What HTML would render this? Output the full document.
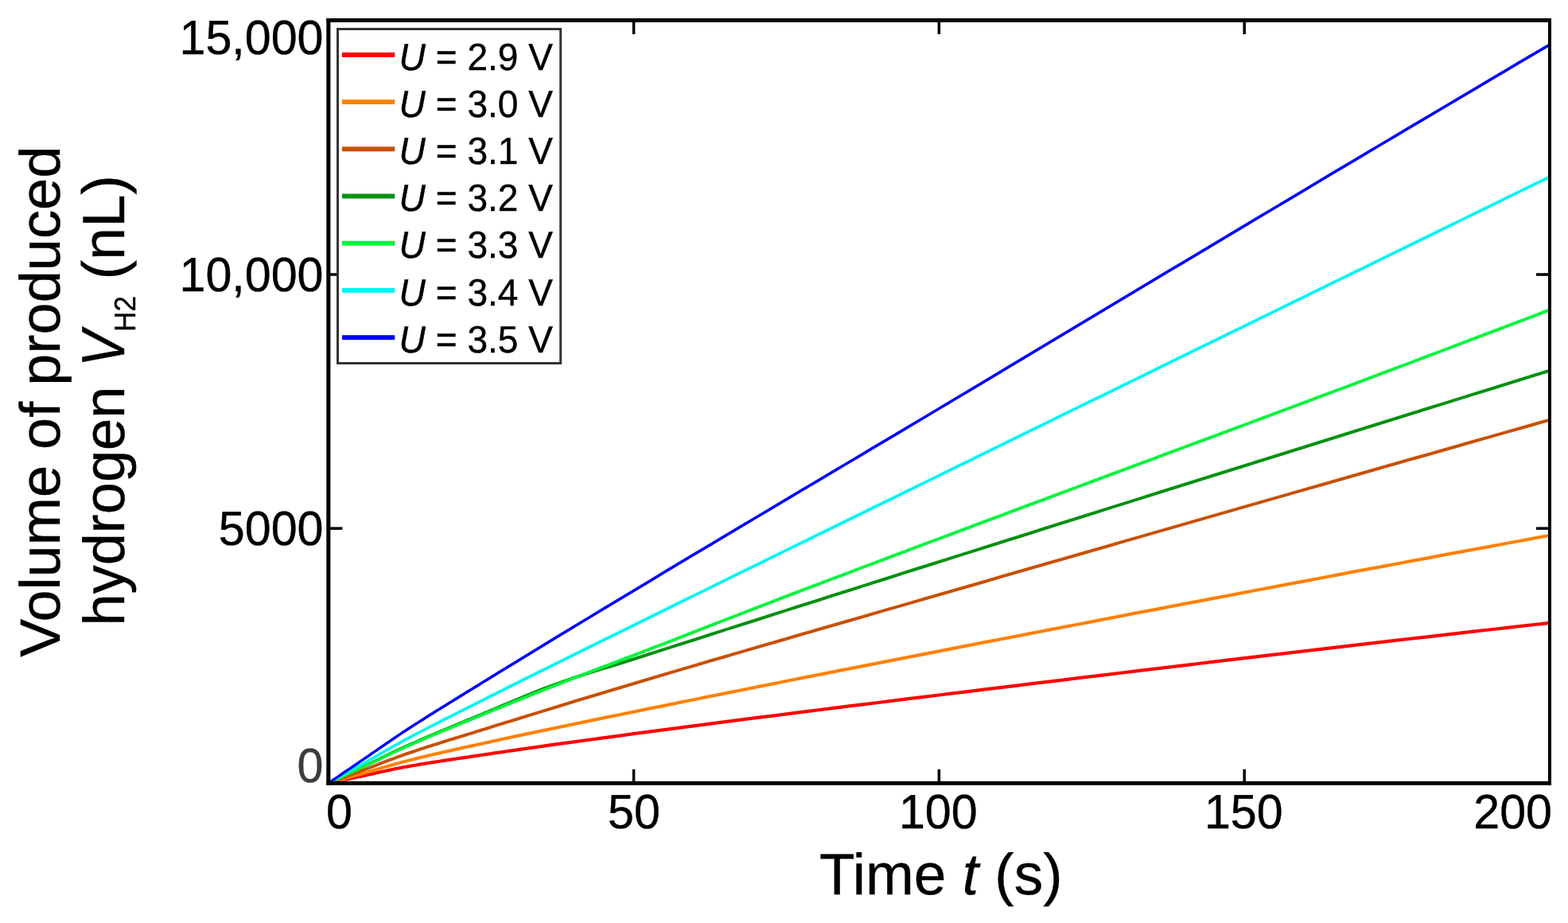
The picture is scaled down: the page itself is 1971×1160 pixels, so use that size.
<!DOCTYPE html>
<html lang="en"><head><meta charset="utf-8"><title>Volume of produced hydrogen</title>
<style>html,body{margin:0;padding:0;background:#fff;}body{width:1971px;height:1160px;overflow:hidden;}svg{display:block;}text{font-family:"Liberation Sans",sans-serif;fill:#000;text-rendering:geometricPrecision;}</style>
</head><body>
<svg width="1971" height="1160" viewBox="0 0 1971 1160" role="img" aria-label="Volume of produced hydrogen versus time for seven voltages">
<rect x="0" y="0" width="1971" height="1160" fill="#fff"/>
<defs><clipPath id="plot"><rect x="415.4" y="28.0" width="1530.6" height="953.8"/></clipPath></defs>
<g fill="#000"><rect x="794.85" y="966.80" width="3.5" height="16.0"/><rect x="794.85" y="27.00" width="3.5" height="16.0"/><rect x="1178.65" y="966.80" width="3.5" height="16.0"/><rect x="1178.65" y="27.00" width="3.5" height="16.0"/><rect x="1562.45" y="966.80" width="3.5" height="16.0"/><rect x="1562.45" y="27.00" width="3.5" height="16.0"/><rect x="414.40" y="662.35" width="16.0" height="3.5"/><rect x="1931.00" y="662.35" width="16.0" height="3.5"/><rect x="414.40" y="343.25" width="16.0" height="3.5"/><rect x="1931.00" y="343.25" width="16.0" height="3.5"/></g>
<g clip-path="url(#plot)" stroke="none">
<path d="M412.8,982.2 L416.6,981.4 L420.5,980.6 L424.3,979.8 L428.2,979.0 L432.0,978.1 L435.8,977.3 L439.7,976.5 L443.5,975.7 L447.3,974.9 L451.2,974.1 L455.0,973.3 L458.9,972.5 L462.7,971.6 L466.5,970.8 L470.4,970.0 L474.2,969.1 L478.0,968.3 L481.9,967.4 L485.7,966.6 L489.6,965.8 L493.4,964.9 L497.2,964.1 L501.1,963.4 L504.9,962.6 L508.8,961.9 L512.6,961.2 L516.4,960.5 L520.3,959.9 L524.1,959.2 L527.9,958.6 L531.8,957.9 L535.6,957.3 L539.5,956.7 L543.3,956.1 L547.1,955.5 L551.0,954.9 L554.8,954.3 L558.6,953.7 L562.5,953.1 L566.3,952.5 L570.2,952.0 L574.0,951.4 L577.8,950.8 L581.7,950.3 L585.5,949.7 L589.3,949.2 L593.2,948.6 L597.0,948.0 L600.9,947.5 L604.7,946.9 L608.5,946.3 L612.4,945.8 L616.2,945.2 L620.1,944.6 L623.9,944.1 L627.7,943.5 L631.6,943.0 L635.4,942.4 L639.2,941.8 L643.1,941.3 L662.3,938.5 L681.5,935.8 L700.7,933.1 L719.8,930.5 L739.0,927.9 L758.2,925.3 L777.4,922.7 L796.6,920.1 L815.8,917.5 L835.0,915.0 L854.2,912.5 L873.4,910.0 L892.5,907.5 L911.7,905.0 L930.9,902.5 L950.1,900.1 L969.3,897.7 L988.5,895.2 L1007.7,892.8 L1026.9,890.4 L1046.1,888.0 L1065.3,885.6 L1084.5,883.2 L1103.6,880.9 L1122.8,878.5 L1142.0,876.1 L1161.2,873.8 L1180.4,871.4 L1199.6,869.0 L1218.8,866.7 L1238.0,864.3 L1257.2,862.0 L1276.3,859.7 L1295.5,857.3 L1314.7,855.0 L1333.9,852.7 L1353.1,850.3 L1372.3,848.0 L1391.5,845.7 L1410.7,843.4 L1429.9,841.1 L1449.1,838.8 L1468.2,836.5 L1487.4,834.2 L1506.6,831.9 L1525.8,829.6 L1545.0,827.3 L1564.2,825.1 L1583.4,822.8 L1602.6,820.5 L1621.8,818.3 L1641.0,816.0 L1660.1,813.8 L1679.3,811.5 L1698.5,809.3 L1717.7,807.1 L1736.9,804.8 L1756.1,802.6 L1775.3,800.4 L1794.5,798.2 L1813.7,796.0 L1832.9,793.8 L1852.0,791.6 L1871.2,789.4 L1890.4,787.2 L1909.6,785.1 L1928.8,782.9 L1948.0,780.8 L1948.0,785.0 L1928.8,787.1 L1909.6,789.3 L1890.4,791.4 L1871.2,793.6 L1852.0,795.8 L1832.9,798.0 L1813.7,800.2 L1794.5,802.4 L1775.3,804.6 L1756.1,806.8 L1736.9,809.0 L1717.7,811.3 L1698.5,813.5 L1679.3,815.7 L1660.1,818.0 L1641.0,820.2 L1621.8,822.5 L1602.6,824.7 L1583.4,827.0 L1564.2,829.3 L1545.0,831.5 L1525.8,833.8 L1506.6,836.1 L1487.4,838.4 L1468.2,840.7 L1449.1,843.0 L1429.9,845.3 L1410.7,847.6 L1391.5,849.9 L1372.3,852.2 L1353.1,854.5 L1333.9,856.9 L1314.7,859.2 L1295.5,861.5 L1276.3,863.9 L1257.2,866.2 L1238.0,868.5 L1218.8,870.9 L1199.6,873.2 L1180.4,875.6 L1161.2,878.0 L1142.0,880.3 L1122.8,882.7 L1103.6,885.1 L1084.5,887.4 L1065.3,889.8 L1046.1,892.2 L1026.9,894.6 L1007.7,897.0 L988.5,899.4 L969.3,901.9 L950.1,904.3 L930.9,906.7 L911.7,909.2 L892.5,911.7 L873.4,914.2 L854.2,916.7 L835.0,919.2 L815.8,921.7 L796.6,924.3 L777.4,926.9 L758.2,929.5 L739.0,932.1 L719.8,934.7 L700.7,937.3 L681.5,940.0 L662.3,942.7 L643.1,945.5 L639.2,946.0 L635.4,946.6 L631.6,947.2 L627.7,947.7 L623.9,948.3 L620.1,948.8 L616.2,949.4 L612.4,950.0 L608.5,950.5 L604.7,951.1 L600.9,951.7 L597.0,952.2 L593.2,952.8 L589.3,953.4 L585.5,953.9 L581.7,954.5 L577.8,955.0 L574.0,955.6 L570.2,956.2 L566.3,956.7 L562.5,957.3 L558.6,957.9 L554.8,958.5 L551.0,959.1 L547.1,959.7 L543.3,960.3 L539.5,960.9 L535.6,961.5 L531.8,962.1 L527.9,962.8 L524.1,963.4 L520.3,964.1 L516.4,964.7 L512.6,965.4 L508.8,966.1 L504.9,966.8 L501.1,967.6 L497.2,968.3 L493.4,969.1 L489.6,970.0 L485.7,970.8 L481.9,971.6 L478.0,972.5 L474.2,973.3 L470.4,974.2 L466.5,975.0 L462.7,975.8 L458.9,976.7 L455.0,977.5 L451.2,978.3 L447.3,979.1 L443.5,979.9 L439.7,980.7 L435.8,981.5 L432.0,982.3 L428.2,983.2 L424.3,984.0 L420.5,984.8 L416.6,985.6 L412.8,986.4Z" fill="#ff0000"/>
<path d="M412.8,982.2 L416.6,981.1 L420.5,980.0 L424.3,978.9 L428.2,977.8 L432.0,976.7 L435.8,975.6 L439.7,974.6 L443.5,973.5 L447.3,972.4 L451.2,971.3 L455.0,970.2 L458.9,969.1 L462.7,968.0 L466.5,966.9 L470.4,965.8 L474.2,964.7 L478.0,963.5 L481.9,962.4 L485.7,961.3 L489.6,960.2 L493.4,959.1 L497.2,958.0 L501.1,956.9 L504.9,955.9 L508.8,954.9 L512.6,953.9 L516.4,952.9 L520.3,952.0 L524.1,951.0 L527.9,950.1 L531.8,949.2 L535.6,948.3 L539.5,947.3 L543.3,946.4 L547.1,945.6 L551.0,944.7 L554.8,943.8 L558.6,942.9 L562.5,942.1 L566.3,941.2 L570.2,940.3 L574.0,939.5 L577.8,938.6 L581.7,937.8 L585.5,936.9 L589.3,936.1 L593.2,935.2 L597.0,934.4 L600.9,933.5 L604.7,932.7 L608.5,931.9 L612.4,931.0 L616.2,930.2 L620.1,929.3 L623.9,928.5 L627.7,927.7 L631.6,926.8 L635.4,926.0 L639.2,925.2 L643.1,924.3 L662.3,920.3 L681.5,916.2 L700.7,912.2 L719.8,908.2 L739.0,904.3 L758.2,900.3 L777.4,896.4 L796.6,892.5 L815.8,888.6 L835.0,884.7 L854.2,880.8 L873.4,876.9 L892.5,873.1 L911.7,869.2 L930.9,865.4 L950.1,861.5 L969.3,857.7 L988.5,853.9 L1007.7,850.1 L1026.9,846.3 L1046.1,842.6 L1065.3,838.8 L1084.5,835.0 L1103.6,831.3 L1122.8,827.5 L1142.0,823.8 L1161.2,820.0 L1180.4,816.3 L1199.6,812.6 L1218.8,808.8 L1238.0,805.1 L1257.2,801.4 L1276.3,797.7 L1295.5,794.0 L1314.7,790.3 L1333.9,786.6 L1353.1,782.9 L1372.3,779.2 L1391.5,775.5 L1410.7,771.8 L1429.9,768.1 L1449.1,764.5 L1468.2,760.8 L1487.4,757.1 L1506.6,753.5 L1525.8,749.8 L1545.0,746.2 L1564.2,742.5 L1583.4,738.9 L1602.6,735.2 L1621.8,731.6 L1641.0,728.0 L1660.1,724.4 L1679.3,720.8 L1698.5,717.1 L1717.7,713.5 L1736.9,710.0 L1756.1,706.4 L1775.3,702.8 L1794.5,699.2 L1813.7,695.6 L1832.9,692.1 L1852.0,688.5 L1871.2,685.0 L1890.4,681.4 L1909.6,677.9 L1928.8,674.3 L1948.0,670.8 L1948.0,675.0 L1928.8,678.5 L1909.6,682.1 L1890.4,685.6 L1871.2,689.2 L1852.0,692.7 L1832.9,696.3 L1813.7,699.8 L1794.5,703.4 L1775.3,707.0 L1756.1,710.6 L1736.9,714.2 L1717.7,717.7 L1698.5,721.3 L1679.3,725.0 L1660.1,728.6 L1641.0,732.2 L1621.8,735.8 L1602.6,739.4 L1583.4,743.1 L1564.2,746.7 L1545.0,750.4 L1525.8,754.0 L1506.6,757.7 L1487.4,761.3 L1468.2,765.0 L1449.1,768.7 L1429.9,772.3 L1410.7,776.0 L1391.5,779.7 L1372.3,783.4 L1353.1,787.1 L1333.9,790.8 L1314.7,794.5 L1295.5,798.2 L1276.3,801.9 L1257.2,805.6 L1238.0,809.3 L1218.8,813.0 L1199.6,816.8 L1180.4,820.5 L1161.2,824.2 L1142.0,828.0 L1122.8,831.7 L1103.6,835.5 L1084.5,839.2 L1065.3,843.0 L1046.1,846.8 L1026.9,850.5 L1007.7,854.3 L988.5,858.1 L969.3,861.9 L950.1,865.7 L930.9,869.6 L911.7,873.4 L892.5,877.3 L873.4,881.1 L854.2,885.0 L835.0,888.9 L815.8,892.8 L796.6,896.7 L777.4,900.6 L758.2,904.5 L739.0,908.5 L719.8,912.4 L700.7,916.4 L681.5,920.4 L662.3,924.5 L643.1,928.5 L639.2,929.4 L635.4,930.2 L631.6,931.0 L627.7,931.9 L623.9,932.7 L620.1,933.5 L616.2,934.4 L612.4,935.2 L608.5,936.1 L604.7,936.9 L600.9,937.7 L597.0,938.6 L593.2,939.4 L589.3,940.3 L585.5,941.1 L581.7,942.0 L577.8,942.8 L574.0,943.7 L570.2,944.5 L566.3,945.4 L562.5,946.3 L558.6,947.1 L554.8,948.0 L551.0,948.9 L547.1,949.8 L543.3,950.6 L539.5,951.5 L535.6,952.5 L531.8,953.4 L527.9,954.3 L524.1,955.2 L520.3,956.2 L516.4,957.1 L512.6,958.1 L508.8,959.1 L504.9,960.1 L501.1,961.1 L497.2,962.2 L493.4,963.3 L489.6,964.4 L485.7,965.5 L481.9,966.6 L478.0,967.7 L474.2,968.9 L470.4,970.0 L466.5,971.1 L462.7,972.2 L458.9,973.3 L455.0,974.4 L451.2,975.5 L447.3,976.6 L443.5,977.7 L439.7,978.8 L435.8,979.8 L432.0,980.9 L428.2,982.0 L424.3,983.1 L420.5,984.2 L416.6,985.3 L412.8,986.4Z" fill="#ff8000"/>
<path d="M412.8,982.2 L416.6,980.8 L420.5,979.3 L424.3,977.9 L428.2,976.4 L432.0,975.0 L435.8,973.5 L439.7,972.1 L443.5,970.6 L447.3,969.2 L451.2,967.8 L455.0,966.3 L458.9,964.9 L462.7,963.4 L466.5,962.0 L470.4,960.5 L474.2,959.0 L478.0,957.5 L481.9,956.1 L485.7,954.6 L489.6,953.1 L493.4,951.7 L497.2,950.2 L501.1,948.8 L504.9,947.5 L508.8,946.1 L512.6,944.8 L516.4,943.5 L520.3,942.2 L524.1,940.9 L527.9,939.6 L531.8,938.4 L535.6,937.1 L539.5,935.9 L543.3,934.7 L547.1,933.4 L551.0,932.2 L554.8,931.0 L558.6,929.8 L562.5,928.6 L566.3,927.4 L570.2,926.3 L574.0,925.1 L577.8,923.9 L581.7,922.7 L585.5,921.5 L589.3,920.4 L593.2,919.2 L597.0,918.0 L600.9,916.8 L604.7,915.6 L608.5,914.4 L612.4,913.2 L616.2,912.0 L620.1,910.8 L623.9,909.6 L627.7,908.4 L631.6,907.2 L635.4,906.0 L639.2,904.9 L643.1,903.7 L662.3,897.7 L681.5,891.9 L700.7,886.0 L719.8,880.1 L739.0,874.3 L758.2,868.5 L777.4,862.7 L796.6,857.0 L815.8,851.3 L835.0,845.6 L854.2,839.9 L873.4,834.3 L892.5,828.6 L911.7,823.0 L930.9,817.4 L950.1,811.8 L969.3,806.2 L988.5,800.7 L1007.7,795.1 L1026.9,789.6 L1046.1,784.0 L1065.3,778.5 L1084.5,773.0 L1103.6,767.4 L1122.8,761.9 L1142.0,756.4 L1161.2,750.8 L1180.4,745.3 L1199.6,739.8 L1218.8,734.2 L1238.0,728.7 L1257.2,723.1 L1276.3,717.6 L1295.5,712.1 L1314.7,706.5 L1333.9,701.0 L1353.1,695.5 L1372.3,690.0 L1391.5,684.5 L1410.7,678.9 L1429.9,673.4 L1449.1,667.9 L1468.2,662.4 L1487.4,656.9 L1506.6,651.4 L1525.8,645.9 L1545.0,640.4 L1564.2,634.9 L1583.4,629.4 L1602.6,623.9 L1621.8,618.4 L1641.0,612.9 L1660.1,607.5 L1679.3,602.0 L1698.5,596.5 L1717.7,591.0 L1736.9,585.6 L1756.1,580.1 L1775.3,574.6 L1794.5,569.2 L1813.7,563.7 L1832.9,558.3 L1852.0,552.8 L1871.2,547.4 L1890.4,541.9 L1909.6,536.5 L1928.8,531.1 L1948.0,525.6 L1948.0,529.8 L1928.8,535.3 L1909.6,540.7 L1890.4,546.1 L1871.2,551.6 L1852.0,557.0 L1832.9,562.5 L1813.7,567.9 L1794.5,573.4 L1775.3,578.8 L1756.1,584.3 L1736.9,589.8 L1717.7,595.2 L1698.5,600.7 L1679.3,606.2 L1660.1,611.7 L1641.0,617.1 L1621.8,622.6 L1602.6,628.1 L1583.4,633.6 L1564.2,639.1 L1545.0,644.6 L1525.8,650.1 L1506.6,655.6 L1487.4,661.1 L1468.2,666.6 L1449.1,672.1 L1429.9,677.6 L1410.7,683.1 L1391.5,688.7 L1372.3,694.2 L1353.1,699.7 L1333.9,705.2 L1314.7,710.7 L1295.5,716.3 L1276.3,721.8 L1257.2,727.3 L1238.0,732.9 L1218.8,738.4 L1199.6,744.0 L1180.4,749.5 L1161.2,755.0 L1142.0,760.6 L1122.8,766.1 L1103.6,771.6 L1084.5,777.2 L1065.3,782.7 L1046.1,788.2 L1026.9,793.8 L1007.7,799.3 L988.5,804.9 L969.3,810.4 L950.1,816.0 L930.9,821.6 L911.7,827.2 L892.5,832.8 L873.4,838.5 L854.2,844.1 L835.0,849.8 L815.8,855.5 L796.6,861.2 L777.4,866.9 L758.2,872.7 L739.0,878.5 L719.8,884.3 L700.7,890.2 L681.5,896.1 L662.3,901.9 L643.1,907.9 L639.2,909.1 L635.4,910.2 L631.6,911.4 L627.7,912.6 L623.9,913.8 L620.1,915.0 L616.2,916.2 L612.4,917.4 L608.5,918.6 L604.7,919.8 L600.9,921.0 L597.0,922.2 L593.2,923.4 L589.3,924.6 L585.5,925.7 L581.7,926.9 L577.8,928.1 L574.0,929.3 L570.2,930.5 L566.3,931.6 L562.5,932.8 L558.6,934.0 L554.8,935.2 L551.0,936.4 L547.1,937.6 L543.3,938.9 L539.5,940.1 L535.6,941.3 L531.8,942.6 L527.9,943.8 L524.1,945.1 L520.3,946.4 L516.4,947.7 L512.6,949.0 L508.8,950.3 L504.9,951.7 L501.1,953.0 L497.2,954.4 L493.4,955.9 L489.6,957.3 L485.7,958.8 L481.9,960.3 L478.0,961.7 L474.2,963.2 L470.4,964.7 L466.5,966.2 L462.7,967.6 L458.9,969.1 L455.0,970.5 L451.2,972.0 L447.3,973.4 L443.5,974.8 L439.7,976.3 L435.8,977.7 L432.0,979.2 L428.2,980.6 L424.3,982.1 L420.5,983.5 L416.6,985.0 L412.8,986.4Z" fill="#c85000"/>
<path d="M412.8,982.2 L416.6,980.4 L420.5,978.5 L424.3,976.7 L428.2,974.9 L432.0,973.1 L435.8,971.2 L439.7,969.4 L443.5,967.6 L447.3,965.7 L451.2,963.9 L455.0,962.1 L458.9,960.3 L462.7,958.4 L466.5,956.6 L470.4,954.7 L474.2,952.9 L478.0,951.0 L481.9,949.2 L485.7,947.3 L489.6,945.5 L493.4,943.6 L497.2,941.8 L501.1,940.0 L504.9,938.2 L508.8,936.5 L512.6,934.8 L516.4,933.1 L520.3,931.4 L524.1,929.7 L527.9,928.0 L531.8,926.3 L535.6,924.7 L539.5,923.1 L543.3,921.4 L547.1,919.8 L551.0,918.2 L554.8,916.6 L558.6,915.0 L562.5,913.4 L566.3,911.8 L570.2,910.2 L574.0,908.6 L577.8,907.0 L581.7,905.4 L585.5,903.8 L589.3,902.2 L593.2,900.7 L597.0,899.1 L600.9,897.5 L604.7,895.9 L608.5,894.3 L612.4,892.7 L616.2,891.1 L620.1,889.5 L623.9,887.9 L627.7,886.2 L631.6,884.6 L635.4,883.0 L639.2,881.4 L643.1,879.7 L662.3,871.8 L681.5,864.1 L700.7,856.9 L719.8,850.3 L739.0,844.1 L758.2,838.1 L777.4,832.2 L796.6,826.2 L815.8,820.1 L835.0,813.9 L854.2,807.8 L873.4,801.7 L892.5,795.6 L911.7,789.4 L930.9,783.3 L950.1,777.2 L969.3,771.1 L988.5,764.9 L1007.7,758.8 L1026.9,752.7 L1046.1,746.6 L1065.3,740.5 L1084.5,734.4 L1103.6,728.3 L1122.8,722.2 L1142.0,716.1 L1161.2,710.1 L1180.4,704.0 L1199.6,697.9 L1218.8,691.9 L1238.0,685.8 L1257.2,679.8 L1276.3,673.7 L1295.5,667.7 L1314.7,661.6 L1333.9,655.6 L1353.1,649.5 L1372.3,643.5 L1391.5,637.4 L1410.7,631.4 L1429.9,625.4 L1449.1,619.3 L1468.2,613.3 L1487.4,607.3 L1506.6,601.3 L1525.8,595.2 L1545.0,589.2 L1564.2,583.2 L1583.4,577.2 L1602.6,571.2 L1621.8,565.2 L1641.0,559.2 L1660.1,553.2 L1679.3,547.2 L1698.5,541.2 L1717.7,535.2 L1736.9,529.3 L1756.1,523.3 L1775.3,517.3 L1794.5,511.3 L1813.7,505.4 L1832.9,499.4 L1852.0,493.4 L1871.2,487.5 L1890.4,481.5 L1909.6,475.6 L1928.8,469.6 L1948.0,463.7 L1948.0,467.9 L1928.8,473.8 L1909.6,479.8 L1890.4,485.7 L1871.2,491.7 L1852.0,497.6 L1832.9,503.6 L1813.7,509.6 L1794.5,515.5 L1775.3,521.5 L1756.1,527.5 L1736.9,533.5 L1717.7,539.4 L1698.5,545.4 L1679.3,551.4 L1660.1,557.4 L1641.0,563.4 L1621.8,569.4 L1602.6,575.4 L1583.4,581.4 L1564.2,587.4 L1545.0,593.4 L1525.8,599.4 L1506.6,605.5 L1487.4,611.5 L1468.2,617.5 L1449.1,623.5 L1429.9,629.6 L1410.7,635.6 L1391.5,641.6 L1372.3,647.7 L1353.1,653.7 L1333.9,659.8 L1314.7,665.8 L1295.5,671.9 L1276.3,677.9 L1257.2,684.0 L1238.0,690.0 L1218.8,696.1 L1199.6,702.1 L1180.4,708.2 L1161.2,714.3 L1142.0,720.3 L1122.8,726.4 L1103.6,732.5 L1084.5,738.6 L1065.3,744.7 L1046.1,750.8 L1026.9,756.9 L1007.7,763.0 L988.5,769.1 L969.3,775.3 L950.1,781.4 L930.9,787.5 L911.7,793.6 L892.5,799.8 L873.4,805.9 L854.2,812.0 L835.0,818.1 L815.8,824.3 L796.6,830.4 L777.4,836.4 L758.2,842.3 L739.0,848.3 L719.8,854.5 L700.7,861.1 L681.5,868.3 L662.3,876.0 L643.1,883.9 L639.2,885.6 L635.4,887.2 L631.6,888.8 L627.7,890.4 L623.9,892.1 L620.1,893.7 L616.2,895.3 L612.4,896.9 L608.5,898.5 L604.7,900.1 L600.9,901.7 L597.0,903.3 L593.2,904.9 L589.3,906.4 L585.5,908.0 L581.7,909.6 L577.8,911.2 L574.0,912.8 L570.2,914.4 L566.3,916.0 L562.5,917.6 L558.6,919.2 L554.8,920.8 L551.0,922.4 L547.1,924.0 L543.3,925.6 L539.5,927.3 L535.6,928.9 L531.8,930.5 L527.9,932.2 L524.1,933.9 L520.3,935.6 L516.4,937.3 L512.6,939.0 L508.8,940.7 L504.9,942.4 L501.1,944.2 L497.2,946.0 L493.4,947.8 L489.6,949.7 L485.7,951.5 L481.9,953.4 L478.0,955.2 L474.2,957.1 L470.4,958.9 L466.5,960.8 L462.7,962.6 L458.9,964.5 L455.0,966.3 L451.2,968.1 L447.3,969.9 L443.5,971.8 L439.7,973.6 L435.8,975.4 L432.0,977.3 L428.2,979.1 L424.3,980.9 L420.5,982.7 L416.6,984.6 L412.8,986.4Z" fill="#009010"/>
<path d="M412.8,982.2 L416.6,980.4 L420.5,978.6 L424.3,976.8 L428.2,975.0 L432.0,973.2 L435.8,971.4 L439.7,969.6 L443.5,967.8 L447.3,966.0 L451.2,964.2 L455.0,962.4 L458.9,960.6 L462.7,958.8 L466.5,957.0 L470.4,955.2 L474.2,953.3 L478.0,951.5 L481.9,949.7 L485.7,947.9 L489.6,946.0 L493.4,944.2 L497.2,942.4 L501.1,940.7 L504.9,938.9 L508.8,937.2 L512.6,935.5 L516.4,933.8 L520.3,932.1 L524.1,930.5 L527.9,928.8 L531.8,927.1 L535.6,925.5 L539.5,923.9 L543.3,922.3 L547.1,920.6 L551.0,919.0 L554.8,917.4 L558.6,915.8 L562.5,914.3 L566.3,912.7 L570.2,911.1 L574.0,909.5 L577.8,907.9 L581.7,906.4 L585.5,904.8 L589.3,903.2 L593.2,901.6 L597.0,900.1 L600.9,898.5 L604.7,896.9 L608.5,895.3 L612.4,893.7 L616.2,892.2 L620.1,890.6 L623.9,889.0 L627.7,887.5 L631.6,885.9 L635.4,884.3 L639.2,882.8 L643.1,881.2 L662.3,873.5 L681.5,865.8 L700.7,858.2 L719.8,850.7 L739.0,843.4 L758.2,836.1 L777.4,828.8 L796.6,821.5 L815.8,814.1 L835.0,806.7 L854.2,799.2 L873.4,791.8 L892.5,784.3 L911.7,776.9 L930.9,769.5 L950.1,762.0 L969.3,754.7 L988.5,747.3 L1007.7,740.0 L1026.9,732.7 L1046.1,725.4 L1065.3,718.2 L1084.5,710.9 L1103.6,703.7 L1122.8,696.5 L1142.0,689.3 L1161.2,682.1 L1180.4,674.9 L1199.6,667.7 L1218.8,660.5 L1238.0,653.3 L1257.2,646.2 L1276.3,639.0 L1295.5,631.8 L1314.7,624.7 L1333.9,617.5 L1353.1,610.4 L1372.3,603.2 L1391.5,596.1 L1410.7,589.0 L1429.9,581.8 L1449.1,574.7 L1468.2,567.6 L1487.4,560.4 L1506.6,553.3 L1525.8,546.2 L1545.0,539.0 L1564.2,531.9 L1583.4,524.7 L1602.6,517.6 L1621.8,510.4 L1641.0,503.3 L1660.1,496.1 L1679.3,488.9 L1698.5,481.7 L1717.7,474.5 L1736.9,467.3 L1756.1,460.1 L1775.3,452.9 L1794.5,445.6 L1813.7,438.4 L1832.9,431.1 L1852.0,423.8 L1871.2,416.5 L1890.4,409.2 L1909.6,402.0 L1928.8,394.7 L1948.0,387.3 L1948.0,391.6 L1928.8,398.9 L1909.6,406.2 L1890.4,413.4 L1871.2,420.7 L1852.0,428.0 L1832.9,435.3 L1813.7,442.6 L1794.5,449.8 L1775.3,457.1 L1756.1,464.3 L1736.9,471.5 L1717.7,478.7 L1698.5,485.9 L1679.3,493.1 L1660.1,500.3 L1641.0,507.5 L1621.8,514.6 L1602.6,521.8 L1583.4,528.9 L1564.2,536.1 L1545.0,543.2 L1525.8,550.4 L1506.6,557.5 L1487.4,564.6 L1468.2,571.8 L1449.1,578.9 L1429.9,586.0 L1410.7,593.2 L1391.5,600.3 L1372.3,607.4 L1353.1,614.6 L1333.9,621.7 L1314.7,628.9 L1295.5,636.0 L1276.3,643.2 L1257.2,650.4 L1238.0,657.5 L1218.8,664.7 L1199.6,671.9 L1180.4,679.1 L1161.2,686.3 L1142.0,693.5 L1122.8,700.7 L1103.6,707.9 L1084.5,715.1 L1065.3,722.4 L1046.1,729.6 L1026.9,736.9 L1007.7,744.2 L988.5,751.5 L969.3,758.9 L950.1,766.2 L930.9,773.7 L911.7,781.1 L892.5,788.5 L873.4,796.0 L854.2,803.4 L835.0,810.9 L815.8,818.3 L796.6,825.7 L777.4,833.0 L758.2,840.3 L739.0,847.6 L719.8,854.9 L700.7,862.4 L681.5,870.0 L662.3,877.7 L643.1,885.4 L639.2,887.0 L635.4,888.5 L631.6,890.1 L627.7,891.7 L623.9,893.2 L620.1,894.8 L616.2,896.4 L612.4,897.9 L608.5,899.5 L604.7,901.1 L600.9,902.7 L597.0,904.3 L593.2,905.8 L589.3,907.4 L585.5,909.0 L581.7,910.6 L577.8,912.1 L574.0,913.7 L570.2,915.3 L566.3,916.9 L562.5,918.5 L558.6,920.0 L554.8,921.6 L551.0,923.2 L547.1,924.8 L543.3,926.5 L539.5,928.1 L535.6,929.7 L531.8,931.3 L527.9,933.0 L524.1,934.7 L520.3,936.3 L516.4,938.0 L512.6,939.7 L508.8,941.4 L504.9,943.1 L501.1,944.9 L497.2,946.6 L493.4,948.4 L489.6,950.2 L485.7,952.1 L481.9,953.9 L478.0,955.7 L474.2,957.5 L470.4,959.4 L466.5,961.2 L462.7,963.0 L458.9,964.8 L455.0,966.6 L451.2,968.4 L447.3,970.2 L443.5,972.0 L439.7,973.8 L435.8,975.6 L432.0,977.4 L428.2,979.2 L424.3,981.0 L420.5,982.8 L416.6,984.6 L412.8,986.4Z" fill="#00f53c"/>
<path d="M412.8,982.2 L416.6,980.0 L420.5,977.9 L424.3,975.7 L428.2,973.5 L432.0,971.4 L435.8,969.2 L439.7,967.1 L443.5,964.9 L447.3,962.7 L451.2,960.6 L455.0,958.4 L458.9,956.2 L462.7,954.1 L466.5,951.9 L470.4,949.7 L474.2,947.5 L478.0,945.3 L481.9,943.1 L485.7,940.9 L489.6,938.8 L493.4,936.6 L497.2,934.4 L501.1,932.3 L504.9,930.2 L508.8,928.1 L512.6,926.0 L516.4,924.0 L520.3,921.9 L524.1,919.9 L527.9,917.9 L531.8,915.9 L535.6,913.9 L539.5,911.9 L543.3,909.9 L547.1,908.0 L551.0,906.0 L554.8,904.1 L558.6,902.1 L562.5,900.2 L566.3,898.2 L570.2,896.3 L574.0,894.4 L577.8,892.4 L581.7,890.5 L585.5,888.6 L589.3,886.6 L593.2,884.7 L597.0,882.8 L600.9,880.8 L604.7,878.9 L608.5,877.0 L612.4,875.0 L616.2,873.1 L620.1,871.2 L623.9,869.2 L627.7,867.3 L631.6,865.4 L635.4,863.5 L639.2,861.5 L643.1,859.6 L662.3,850.1 L681.5,840.5 L700.7,831.0 L719.8,821.5 L739.0,812.1 L758.2,802.6 L777.4,793.2 L796.6,783.7 L815.8,774.2 L835.0,764.8 L854.2,755.3 L873.4,745.9 L892.5,736.5 L911.7,727.0 L930.9,717.6 L950.1,708.2 L969.3,698.8 L988.5,689.4 L1007.7,680.0 L1026.9,670.6 L1046.1,661.2 L1065.3,651.8 L1084.5,642.5 L1103.6,633.1 L1122.8,623.7 L1142.0,614.3 L1161.2,604.9 L1180.4,595.5 L1199.6,586.1 L1218.8,576.7 L1238.0,567.3 L1257.2,557.9 L1276.3,548.5 L1295.5,539.1 L1314.7,529.7 L1333.9,520.3 L1353.1,510.9 L1372.3,501.6 L1391.5,492.2 L1410.7,482.8 L1429.9,473.4 L1449.1,464.0 L1468.2,454.6 L1487.4,445.2 L1506.6,435.8 L1525.8,426.5 L1545.0,417.1 L1564.2,407.7 L1583.4,398.3 L1602.6,388.9 L1621.8,379.5 L1641.0,370.2 L1660.1,360.8 L1679.3,351.4 L1698.5,342.0 L1717.7,332.7 L1736.9,323.3 L1756.1,313.9 L1775.3,304.5 L1794.5,295.2 L1813.7,285.8 L1832.9,276.4 L1852.0,267.1 L1871.2,257.7 L1890.4,248.3 L1909.6,238.9 L1928.8,229.6 L1948.0,220.2 L1948.0,224.4 L1928.8,233.8 L1909.6,243.1 L1890.4,252.5 L1871.2,261.9 L1852.0,271.3 L1832.9,280.6 L1813.7,290.0 L1794.5,299.4 L1775.3,308.7 L1756.1,318.1 L1736.9,327.5 L1717.7,336.9 L1698.5,346.2 L1679.3,355.6 L1660.1,365.0 L1641.0,374.4 L1621.8,383.7 L1602.6,393.1 L1583.4,402.5 L1564.2,411.9 L1545.0,421.3 L1525.8,430.7 L1506.6,440.0 L1487.4,449.4 L1468.2,458.8 L1449.1,468.2 L1429.9,477.6 L1410.7,487.0 L1391.5,496.4 L1372.3,505.8 L1353.1,515.1 L1333.9,524.5 L1314.7,533.9 L1295.5,543.3 L1276.3,552.7 L1257.2,562.1 L1238.0,571.5 L1218.8,580.9 L1199.6,590.3 L1180.4,599.7 L1161.2,609.1 L1142.0,618.5 L1122.8,627.9 L1103.6,637.3 L1084.5,646.7 L1065.3,656.0 L1046.1,665.4 L1026.9,674.8 L1007.7,684.2 L988.5,693.6 L969.3,703.0 L950.1,712.4 L930.9,721.8 L911.7,731.2 L892.5,740.7 L873.4,750.1 L854.2,759.5 L835.0,769.0 L815.8,778.4 L796.6,787.9 L777.4,797.4 L758.2,806.8 L739.0,816.3 L719.8,825.7 L700.7,835.2 L681.5,844.7 L662.3,854.3 L643.1,863.8 L639.2,865.7 L635.4,867.7 L631.6,869.6 L627.7,871.5 L623.9,873.4 L620.1,875.4 L616.2,877.3 L612.4,879.2 L608.5,881.2 L604.7,883.1 L600.9,885.0 L597.0,887.0 L593.2,888.9 L589.3,890.8 L585.5,892.8 L581.7,894.7 L577.8,896.6 L574.0,898.6 L570.2,900.5 L566.3,902.4 L562.5,904.4 L558.6,906.3 L554.8,908.3 L551.0,910.2 L547.1,912.2 L543.3,914.1 L539.5,916.1 L535.6,918.1 L531.8,920.1 L527.9,922.1 L524.1,924.1 L520.3,926.1 L516.4,928.2 L512.6,930.2 L508.8,932.3 L504.9,934.4 L501.1,936.5 L497.2,938.6 L493.4,940.8 L489.6,943.0 L485.7,945.1 L481.9,947.3 L478.0,949.5 L474.2,951.7 L470.4,953.9 L466.5,956.1 L462.7,958.3 L458.9,960.4 L455.0,962.6 L451.2,964.8 L447.3,966.9 L443.5,969.1 L439.7,971.3 L435.8,973.4 L432.0,975.6 L428.2,977.7 L424.3,979.9 L420.5,982.1 L416.6,984.2 L412.8,986.4Z" fill="#00f5f5"/>
<path d="M412.8,982.2 L416.6,979.6 L420.5,977.0 L424.3,974.4 L428.2,971.7 L432.0,969.1 L435.8,966.5 L439.7,963.9 L443.5,961.3 L447.3,958.7 L451.2,956.0 L455.0,953.4 L458.9,950.8 L462.7,948.2 L466.5,945.6 L470.4,942.9 L474.2,940.3 L478.0,937.6 L481.9,935.0 L485.7,932.3 L489.6,929.7 L493.4,927.1 L497.2,924.5 L501.1,921.9 L504.9,919.3 L508.8,916.8 L512.6,914.3 L516.4,911.8 L520.3,909.3 L524.1,906.9 L527.9,904.4 L531.8,902.0 L535.6,899.5 L539.5,897.1 L543.3,894.7 L547.1,892.3 L551.0,889.9 L554.8,887.5 L558.6,885.2 L562.5,882.8 L566.3,880.4 L570.2,878.0 L574.0,875.7 L577.8,873.3 L581.7,871.0 L585.5,868.6 L589.3,866.3 L593.2,863.9 L597.0,861.5 L600.9,859.2 L604.7,856.8 L608.5,854.4 L612.4,852.1 L616.2,849.7 L620.1,847.3 L623.9,845.0 L627.7,842.6 L631.6,840.3 L635.4,837.9 L639.2,835.6 L643.1,833.2 L662.3,821.5 L681.5,809.8 L700.7,798.1 L719.8,786.5 L739.0,774.9 L758.2,763.3 L777.4,751.8 L796.6,740.2 L815.8,728.7 L835.0,717.1 L854.2,705.6 L873.4,694.1 L892.5,682.7 L911.7,671.2 L930.9,659.8 L950.1,648.4 L969.3,637.0 L988.5,625.5 L1007.7,614.1 L1026.9,602.7 L1046.1,591.3 L1065.3,579.9 L1084.5,568.5 L1103.6,557.1 L1122.8,545.7 L1142.0,534.3 L1161.2,522.9 L1180.4,511.4 L1199.6,499.9 L1218.8,488.5 L1238.0,477.0 L1257.2,465.5 L1276.3,454.0 L1295.5,442.5 L1314.7,431.1 L1333.9,419.6 L1353.1,408.1 L1372.3,396.6 L1391.5,385.1 L1410.7,373.6 L1429.9,362.1 L1449.1,350.6 L1468.2,339.1 L1487.4,327.7 L1506.6,316.2 L1525.8,304.7 L1545.0,293.3 L1564.2,281.8 L1583.4,270.3 L1602.6,258.9 L1621.8,247.5 L1641.0,236.0 L1660.1,224.6 L1679.3,213.1 L1698.5,201.7 L1717.7,190.3 L1736.9,178.9 L1756.1,167.5 L1775.3,156.1 L1794.5,144.7 L1813.7,133.4 L1832.9,122.0 L1852.0,110.7 L1871.2,99.3 L1890.4,88.0 L1909.6,76.6 L1928.8,65.3 L1948.0,54.0 L1948.0,58.2 L1928.8,69.5 L1909.6,80.8 L1890.4,92.2 L1871.2,103.5 L1852.0,114.9 L1832.9,126.2 L1813.7,137.6 L1794.5,148.9 L1775.3,160.3 L1756.1,171.7 L1736.9,183.1 L1717.7,194.5 L1698.5,205.9 L1679.3,217.3 L1660.1,228.8 L1641.0,240.2 L1621.8,251.7 L1602.6,263.1 L1583.4,274.5 L1564.2,286.0 L1545.0,297.5 L1525.8,308.9 L1506.6,320.4 L1487.4,331.9 L1468.2,343.3 L1449.1,354.8 L1429.9,366.3 L1410.7,377.8 L1391.5,389.3 L1372.3,400.8 L1353.1,412.3 L1333.9,423.8 L1314.7,435.3 L1295.5,446.7 L1276.3,458.2 L1257.2,469.7 L1238.0,481.2 L1218.8,492.7 L1199.6,504.1 L1180.4,515.6 L1161.2,527.1 L1142.0,538.5 L1122.8,549.9 L1103.6,561.3 L1084.5,572.7 L1065.3,584.1 L1046.1,595.5 L1026.9,606.9 L1007.7,618.3 L988.5,629.7 L969.3,641.2 L950.1,652.6 L930.9,664.0 L911.7,675.4 L892.5,686.9 L873.4,698.3 L854.2,709.8 L835.0,721.3 L815.8,732.9 L796.6,744.4 L777.4,756.0 L758.2,767.5 L739.0,779.1 L719.8,790.7 L700.7,802.3 L681.5,814.0 L662.3,825.7 L643.1,837.4 L639.2,839.8 L635.4,842.1 L631.6,844.5 L627.7,846.8 L623.9,849.2 L620.1,851.5 L616.2,853.9 L612.4,856.3 L608.5,858.6 L604.7,861.0 L600.9,863.4 L597.0,865.7 L593.2,868.1 L589.3,870.5 L585.5,872.8 L581.7,875.2 L577.8,877.5 L574.0,879.9 L570.2,882.2 L566.3,884.6 L562.5,887.0 L558.6,889.4 L554.8,891.7 L551.0,894.1 L547.1,896.5 L543.3,898.9 L539.5,901.3 L535.6,903.7 L531.8,906.2 L527.9,908.6 L524.1,911.1 L520.3,913.5 L516.4,916.0 L512.6,918.5 L508.8,921.0 L504.9,923.5 L501.1,926.1 L497.2,928.7 L493.4,931.3 L489.6,933.9 L485.7,936.5 L481.9,939.2 L478.0,941.8 L474.2,944.5 L470.4,947.1 L466.5,949.8 L462.7,952.4 L458.9,955.0 L455.0,957.6 L451.2,960.2 L447.3,962.9 L443.5,965.5 L439.7,968.1 L435.8,970.7 L432.0,973.3 L428.2,975.9 L424.3,978.6 L420.5,981.2 L416.6,983.8 L412.8,986.4Z" fill="#0000fa"/>
</g>
<g fill="#000">
<rect x="410.3" y="23.0" width="5.10" height="963.80"/>
<rect x="1946.0" y="23.0" width="4.00" height="963.80"/>
<rect x="410.3" y="23.0" width="1539.70" height="5.00"/>
<rect x="410.3" y="981.8" width="1539.70" height="5.00"/>
</g>
<rect x="424.5" y="36.5" width="280.20000000000005" height="420.0" fill="#fff" stroke="#333" stroke-width="3.0"/>
<rect x="430" y="65.95" width="66.3" height="5.9" fill="#ff0000"/>
<text transform="translate(501.60,88.00) scale(1.0,1.036)" font-size="46.1" stroke="#000" stroke-width="0.4"><tspan font-style="italic">U</tspan> = 2.9 V</text>
<rect x="430" y="125.16" width="66.3" height="5.9" fill="#ff8000"/>
<text transform="translate(501.60,147.00) scale(1.0,1.036)" font-size="46.1" stroke="#000" stroke-width="0.4"><tspan font-style="italic">U</tspan> = 3.0 V</text>
<rect x="430" y="184.37" width="66.3" height="5.9" fill="#c85000"/>
<text transform="translate(501.60,206.00) scale(1.0,1.036)" font-size="46.1" stroke="#000" stroke-width="0.4"><tspan font-style="italic">U</tspan> = 3.1 V</text>
<rect x="430" y="243.58" width="66.3" height="5.9" fill="#009010"/>
<text transform="translate(501.60,265.00) scale(1.0,1.036)" font-size="46.1" stroke="#000" stroke-width="0.4"><tspan font-style="italic">U</tspan> = 3.2 V</text>
<rect x="430" y="302.79" width="66.3" height="5.9" fill="#00f53c"/>
<text transform="translate(501.60,324.00) scale(1.0,1.036)" font-size="46.1" stroke="#000" stroke-width="0.4"><tspan font-style="italic">U</tspan> = 3.3 V</text>
<rect x="430" y="362.00" width="66.3" height="5.9" fill="#00f5f5"/>
<text transform="translate(501.60,384.00) scale(1.0,1.036)" font-size="46.1" stroke="#000" stroke-width="0.4"><tspan font-style="italic">U</tspan> = 3.4 V</text>
<rect x="430" y="421.21" width="66.3" height="5.9" fill="#0000fa"/>
<text transform="translate(501.60,443.00) scale(1.0,1.036)" font-size="46.1" stroke="#000" stroke-width="0.4"><tspan font-style="italic">U</tspan> = 3.5 V</text>
<text transform="translate(406.50,68.00) scale(1.0,1.025)" font-size="59.2" text-anchor="end" stroke="#000" stroke-width="0.4">15,000</text>
<text transform="translate(406.50,366.00) scale(1.0,1.025)" font-size="59.2" text-anchor="end" stroke="#000" stroke-width="0.4">10,000</text>
<text transform="translate(406.50,685.00) scale(1.0,1.025)" font-size="59.2" text-anchor="end" stroke="#000" stroke-width="0.4">5000</text>
<text transform="translate(406.50,983.00) scale(1.0,1.025)" font-size="59.2" text-anchor="end" stroke="#3c3c3c" stroke-width="0.4" style="fill:#3c3c3c">0</text>
<text transform="translate(410.00,1041.00) scale(1.0,1.025)" font-size="59.2" stroke="#000" stroke-width="0.4">0</text>
<text transform="translate(797.00,1041.00) scale(1.0,1.025)" font-size="59.2" text-anchor="middle" stroke="#000" stroke-width="0.4">50</text>
<text transform="translate(1179.30,1041.00) scale(1.0,1.025)" font-size="59.2" text-anchor="middle" stroke="#000" stroke-width="0.4">100</text>
<text transform="translate(1563.30,1041.00) scale(1.0,1.025)" font-size="59.2" text-anchor="middle" stroke="#000" stroke-width="0.4">150</text>
<text transform="translate(1951.00,1041.00) scale(1.0,1.025)" font-size="59.2" text-anchor="end" stroke="#000" stroke-width="0.4">200</text>
<text transform="translate(1182.70,1124.00)" font-size="73" text-anchor="middle" stroke="#000" stroke-width="0.4">Time <tspan font-style="italic">t</tspan> (s)</text>
<text transform="translate(75.00,504.70) rotate(-90) scale(1.0,0.988)" font-size="72.2" text-anchor="middle" stroke="#000" stroke-width="0.4">Volume of produced</text>
<text transform="translate(156.00,786.60) rotate(-90) scale(1.0,1.01)" font-size="72.2" stroke="#000" stroke-width="0.4">hydrogen</text>
<text transform="translate(156.00,460.90) rotate(-90) scale(0.945,1.06)" font-size="72.2" stroke="#000" stroke-width="0.4" font-style="italic">V</text>
<text transform="translate(170.00,416.90) rotate(-90) scale(1.0,1.07)" font-size="35" stroke="#000" stroke-width="0.4">H2</text>
<text transform="translate(156.00,351.60) rotate(-90) scale(1.0,1.012)" font-size="74" stroke="#000" stroke-width="0.4">(nL)</text>
</svg></body></html>
